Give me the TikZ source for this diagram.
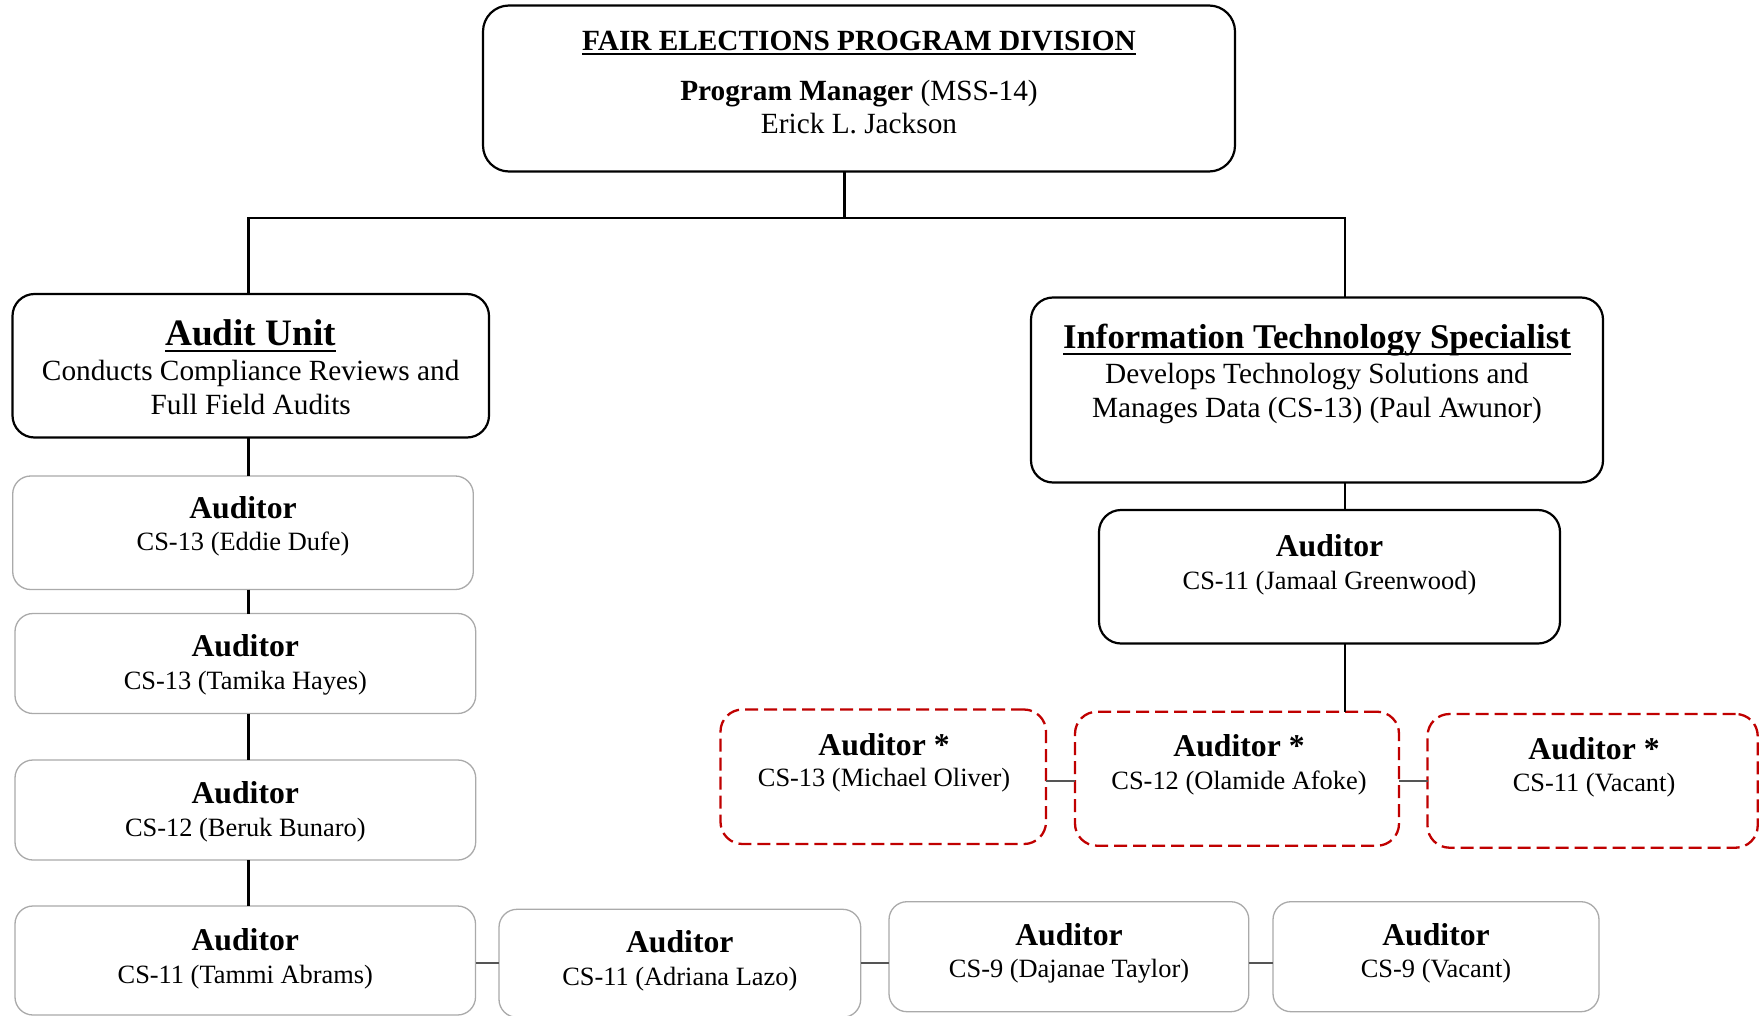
\documentclass[tikz,border=0pt]{standalone}
\usepackage{fontspec}
\setmainfont{Liberation Serif}
\definecolor{boxgray}{RGB}{170,170,170}
\definecolor{peergray}{RGB}{85,85,85}
\definecolor{planred}{RGB}{192,0,0}
% underline with a chosen offset (#1) and thickness (#2)
\newcommand\undl[3]{\setbox0=\hbox{#3}\rlap{\rule[#1]{\wd0}{#2}}\box0}
% box from its corner coordinates: name, style, x1, y1, x2, y2
\newcommand\orgbox[6]{\node[#2, minimum width={(#5)-(#3)}, minimum height={(#6)-(#4)}] (#1) at ({((#3)+(#5))/2},{((#4)+(#6))/2}) {};}
\begin{document}
\begin{tikzpicture}[x=1pt,y=-1pt,
  boxbase/.style={inner sep=0pt, outer sep=0pt, fill=white},
  chief/.style={boxbase, draw=black, line width=2.2pt, rounded corners=26pt},
  unitbox/.style={boxbase, draw=black, line width=2.2pt, rounded corners=22pt},
  staff/.style={boxbase, draw=boxgray, line width=1.3pt, rounded corners=18pt},
  planned/.style={boxbase, draw=planred, line width=2.3pt, dash pattern=on 13pt off 6pt, rounded corners=22pt},
  tie/.style={draw=black, line width=2.2pt},
  peer/.style={draw=peergray, line width=2pt},
  lbl/.style={anchor=base, inner sep=0pt, text=black},
  head/.style={lbl, font=\fontsize{29.3}{35}\selectfont},
  unittitle/.style={lbl, font=\fontsize{37.3}{44}\selectfont\bfseries},
  ittitle/.style={lbl, font=\fontsize{34.7}{41}\selectfont\bfseries},
  role/.style={lbl, font=\fontsize{31.7}{38}\selectfont\bfseries},
  grade/.style={lbl, font=\fontsize{26.4}{32}\selectfont}]

\path[fill=white] (0,0) rectangle (1763,1016);
\useasboundingbox (0,0) rectangle (1763,1016);

% ---- boxes ----
\orgbox{top}{chief}{483}{5.5}{1235}{171.5}
\orgbox{audit}{unitbox}{12.5}{294}{489}{437.5}
\orgbox{it}{unitbox}{1031}{297.5}{1603}{482.5}
\orgbox{jamaal}{unitbox}{1099}{510}{1560}{643.5}
\orgbox{eddie}{staff}{12.7}{476}{473.3}{589.5}
\orgbox{tamika}{staff}{15}{613.5}{475.7}{713.5}
\orgbox{beruk}{staff}{15}{760}{475.7}{860}
\orgbox{tammi}{staff}{15}{906}{475.5}{1015}
\orgbox{adriana}{staff}{499}{909.3}{860.7}{1017.3}
\orgbox{dajanae}{staff}{889}{901.7}{1248.8}{1011.7}
\orgbox{vacnine}{staff}{1273}{901.7}{1599}{1011.7}
\orgbox{michael}{planned}{720.5}{709.5}{1046}{844}
\orgbox{olamide}{planned}{1075}{711.7}{1399}{845.7}
\orgbox{vaceleven}{planned}{1427.5}{714}{1757.7}{847.7}

% ---- reporting lines ----
\coordinate (hub) at (844.5,217.7);
\coordinate (hl) at (248.5,217.7);
\coordinate (hr) at (1345,217.7);
\draw[tie] (top.south -| hub) -- (hub);
\draw[tie] (audit.north -| hl) -- (hl) -- (hr) -- (it.north -| hr);
\draw[tie] (audit.south -| hl) -- (eddie.north -| hl);
\draw[tie] (eddie.south -| hl) -- (tamika.north -| hl);
\draw[tie] (tamika.south -| hl) -- (beruk.north -| hl);
\draw[tie] (beruk.south -| hl) -- (tammi.north -| hl);
\draw[tie] (it.south -| hr) -- (jamaal.north -| hr);
\draw[tie] (jamaal.south -| hr) -- (olamide.north -| hr);

% ---- peer links ----
\draw[peer] (tammi.east |- adriana.west) -- (adriana.west);
\draw[peer] (adriana.east) -- (adriana.east -| dajanae.west);
\draw[peer] (dajanae.east |- adriana.east) -- (vacnine.west |- adriana.east);
\draw[peer] (michael.east |- vaceleven.west) -- (olamide.west |- vaceleven.west);
\draw[peer] (olamide.east |- vaceleven.west) -- (vaceleven.west);

% ---- division head ----
\node[head] (top-a) at (859,51) {\bfseries\undl{-4pt}{2.2pt}{FAIR ELECTIONS PROGRAM DIVISION}};
\node[head] (top-b) at (859,100.5) {\textbf{Program Manager} (MSS-14)};
\node[head] (top-c) at (859,134) {Erick L. Jackson};

% ---- audit unit ----
\node[unittitle] (audit-a) at (250.7,345.7) {\undl{-6.5pt}{2.6pt}{Audit Unit}};
\node[head] (audit-b) at (250.7,380.5) {Conducts Compliance Reviews and};
\node[head] (audit-c) at (250.7,414.5) {Full Field Audits};

% ---- IT specialist ----
\node[ittitle] (it-a) at (1317,348.3) {\undl{-7pt}{2.6pt}{Information Technology Specialist}};
\node[head] (it-b) at (1317,383.3) {Develops Technology Solutions and};
\node[head] (it-c) at (1317,417.7) {Manages Data (CS-13) (Paul Awunor)};

% ---- auditors ----
\node[role] (jamaal-a) at (1329.5,556.7) {Auditor};
\node[grade] (jamaal-b) at (1329.5,589) {CS-11 (Jamaal Greenwood)};
\node[role] (eddie-a) at (243,518.3) {Auditor};
\node[grade] (eddie-b) at (243,550.5) {CS-13 (Eddie Dufe)};
\node[role] (tamika-a) at (245.3,656.7) {Auditor};
\node[grade] (tamika-b) at (245.3,689.3) {CS-13 (Tamika Hayes)};
\node[role] (beruk-a) at (245.3,803.4) {Auditor};
\node[grade] (beruk-b) at (245.3,836) {CS-12 (Beruk Bunaro)};
\node[role] (tammi-a) at (245.3,950) {Auditor};
\node[grade] (tammi-b) at (245.3,983.3) {CS-11 (Tammi Abrams)};
\node[role] (adriana-a) at (679.8,952.7) {Auditor};
\node[grade] (adriana-b) at (679.8,985.2) {CS-11 (Adriana Lazo)};
\node[role] (dajanae-a) at (1069,945) {Auditor};
\node[grade] (dajanae-b) at (1069,977) {CS-9 (Dajanae Taylor)};
\node[role] (vacnine-a) at (1436,945) {Auditor};
\node[grade] (vacnine-b) at (1436,977) {CS-9 (Vacant)};
\node[role] (michael-a) at (884,755) {Auditor *};
\node[grade] (michael-b) at (884,786.7) {CS-13 (Michael Oliver)};
\node[role] (olamide-a) at (1239,756.7) {Auditor *};
\node[grade] (olamide-b) at (1239,789) {CS-12 (Olamide Afoke)};
\node[role] (vaceleven-a) at (1594,759) {Auditor *};
\node[grade] (vaceleven-b) at (1594,791.2) {CS-11 (Vacant)};
\end{tikzpicture}
\end{document}
